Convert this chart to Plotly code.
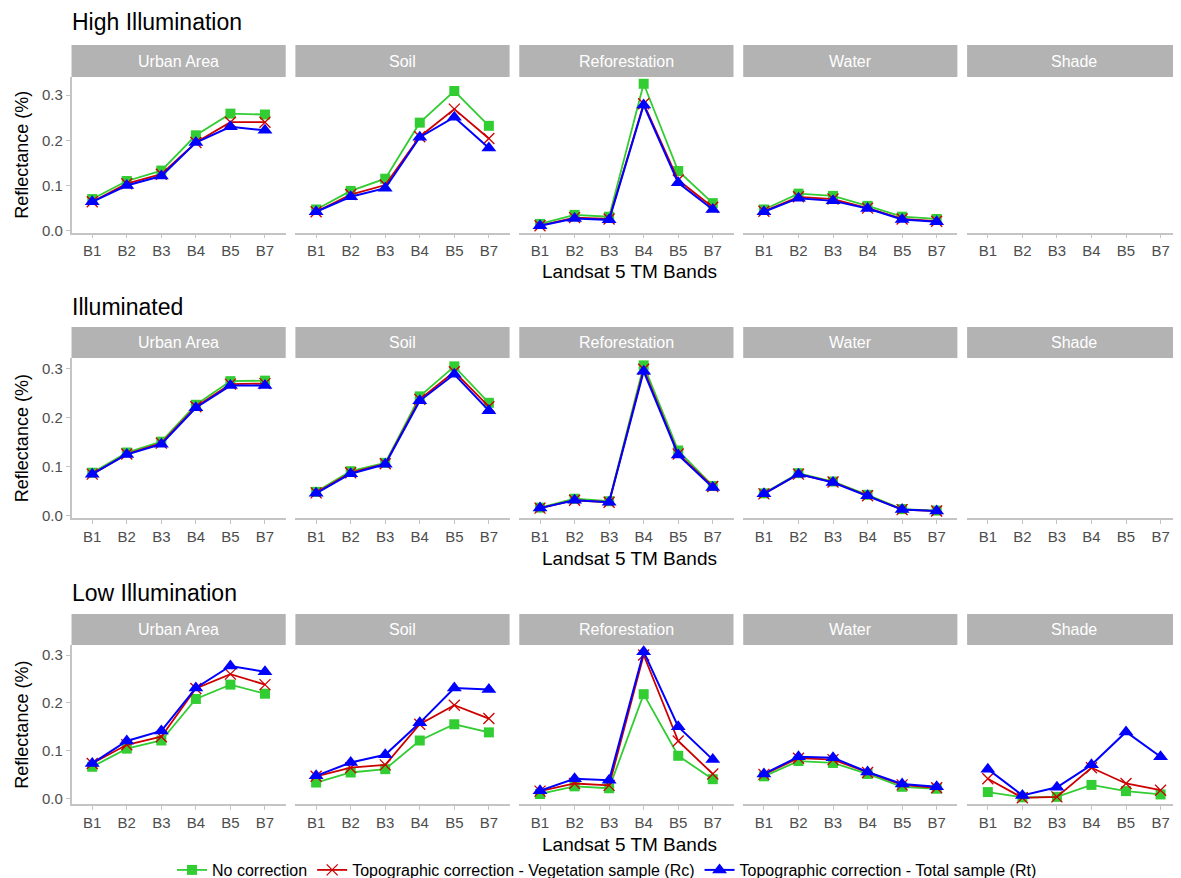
import plotly.graph_objects as go

# ---------------- data ----------------
bands = ["B1", "B2", "B3", "B4", "B5", "B7"]
classes = ["Urban Area", "Soil", "Reforestation", "Water", "Shade"]
conditions = ["High Illumination", "Illuminated", "Low Illumination"]
series_names = ["No correction",
                "Topographic correction - Vegetation sample (Rc)",
                "Topographic correction - Total sample (Rt)"]

# High Illumination (nc = no correction, rc = vegetation sample, rt = total sample)
hi_urban_nc = [0.070, 0.110, 0.133, 0.211, 0.259, 0.257]
hi_urban_rc = [0.064, 0.104, 0.125, 0.195, 0.240, 0.240]
hi_urban_rt = [0.064, 0.100, 0.121, 0.195, 0.230, 0.222]
hi_soil_nc = [0.047, 0.088, 0.115, 0.239, 0.309, 0.232]
hi_soil_rc = [0.042, 0.080, 0.101, 0.208, 0.269, 0.204]
hi_soil_rt = [0.042, 0.075, 0.094, 0.207, 0.251, 0.183]
hi_refor_nc = [0.015, 0.035, 0.031, 0.325, 0.132, 0.061]
hi_refor_rc = [0.011, 0.029, 0.026, 0.281, 0.112, 0.052]
hi_refor_rt = [0.011, 0.027, 0.024, 0.278, 0.106, 0.047]
hi_water_nc = [0.047, 0.082, 0.077, 0.055, 0.031, 0.026]
hi_water_rc = [0.043, 0.075, 0.070, 0.050, 0.026, 0.021]
hi_water_rt = [0.042, 0.072, 0.066, 0.049, 0.025, 0.020]
hi_shade_nc = []
hi_shade_rc = []
hi_shade_rt = []

# Illuminated
il_urban_nc = [0.088, 0.129, 0.151, 0.226, 0.274, 0.275]
il_urban_rc = [0.085, 0.126, 0.148, 0.222, 0.268, 0.269]
il_urban_rt = [0.085, 0.125, 0.146, 0.220, 0.265, 0.265]
il_soil_nc = [0.049, 0.091, 0.108, 0.243, 0.304, 0.230]
il_soil_rc = [0.047, 0.088, 0.106, 0.237, 0.293, 0.222]
il_soil_rt = [0.046, 0.086, 0.105, 0.234, 0.288, 0.214]
il_refor_nc = [0.017, 0.035, 0.030, 0.306, 0.133, 0.061]
il_refor_rc = [0.016, 0.032, 0.028, 0.298, 0.126, 0.060]
il_refor_rt = [0.016, 0.032, 0.028, 0.294, 0.124, 0.058]
il_water_nc = [0.046, 0.087, 0.070, 0.043, 0.014, 0.011]
il_water_rc = [0.045, 0.085, 0.069, 0.041, 0.013, 0.010]
il_water_rt = [0.045, 0.085, 0.068, 0.041, 0.013, 0.010]
il_shade_nc = []
il_shade_rc = []
il_shade_rt = []

# Low Illumination
lo_urban_nc = [0.066, 0.104, 0.121, 0.208, 0.238, 0.219]
lo_urban_rc = [0.073, 0.112, 0.129, 0.230, 0.260, 0.238]
lo_urban_rt = [0.073, 0.120, 0.141, 0.231, 0.277, 0.265]
lo_soil_nc = [0.033, 0.054, 0.061, 0.121, 0.155, 0.138]
lo_soil_rc = [0.046, 0.064, 0.070, 0.155, 0.195, 0.167]
lo_soil_rt = [0.047, 0.075, 0.091, 0.158, 0.231, 0.228]
lo_refor_nc = [0.009, 0.025, 0.021, 0.218, 0.089, 0.040]
lo_refor_rc = [0.015, 0.031, 0.027, 0.300, 0.120, 0.051]
lo_refor_rt = [0.016, 0.041, 0.038, 0.307, 0.150, 0.081]
lo_water_nc = [0.046, 0.078, 0.074, 0.051, 0.024, 0.020]
lo_water_rc = [0.050, 0.084, 0.081, 0.054, 0.028, 0.022]
lo_water_rt = [0.051, 0.087, 0.085, 0.055, 0.030, 0.024]
lo_shade_nc = [0.013, 0.002, 0.003, 0.028, 0.015, 0.008]
lo_shade_rc = [0.041, 0.001, 0.003, 0.064, 0.031, 0.017]
lo_shade_rt = [0.061, 0.006, 0.023, 0.070, 0.139, 0.087]

y_ticks = [0.0, 0.1, 0.2, 0.3]
y_tick_labels = ["0.0", "0.1", "0.2", "0.3"]

rows_data = [
    [(hi_urban_nc, hi_urban_rc, hi_urban_rt), (hi_soil_nc, hi_soil_rc, hi_soil_rt),
     (hi_refor_nc, hi_refor_rc, hi_refor_rt), (hi_water_nc, hi_water_rc, hi_water_rt),
     (hi_shade_nc, hi_shade_rc, hi_shade_rt)],
    [(il_urban_nc, il_urban_rc, il_urban_rt), (il_soil_nc, il_soil_rc, il_soil_rt),
     (il_refor_nc, il_refor_rc, il_refor_rt), (il_water_nc, il_water_rc, il_water_rt),
     (il_shade_nc, il_shade_rc, il_shade_rt)],
    [(lo_urban_nc, lo_urban_rc, lo_urban_rt), (lo_soil_nc, lo_soil_rc, lo_soil_rt),
     (lo_refor_nc, lo_refor_rc, lo_refor_rt), (lo_water_nc, lo_water_rc, lo_water_rt),
     (lo_shade_nc, lo_shade_rc, lo_shade_rt)],
]

# ---------------- layout geometry (page pixels) ----------------
OFF = 8                      # page body margin
W, H = 1181 - OFF, 878 - OFF  # figure size so it ends at the window edge
VISIBLE_RIGHT = 1173         # right-most visible page pixel
FONT = "Liberation Sans, Arial, sans-serif"
panel_w = 214.2
panel_gap = 9.7
panel_x0 = [71.5 + (panel_w + panel_gap) * i for i in range(5)]
row_geom = [  # strip top, plot top, plot bottom, y range
    (45, 77, 232.7, [-0.0044, 0.340]),
    (327, 358, 518.3, [-0.0047, 0.321]),
    (614, 645, 804.3, [-0.0126, 0.321]),
]
title_y = [22, 307, 593]
xtitle_y = [272, 558, 844]

styles = [
    dict(color="#32cd32", symbol="square", size=10, lw=1.8),
    dict(color="#cd0000", symbol="x-thin", size=11, lw=1.8),
    dict(color="#0000ff", symbol="triangle-up", size=13, lw=2.0),
]


def fx(px):
    return (px - OFF) / W


def fy(py):
    return 1 - (py - OFF) / H


fig = go.Figure()
shapes = []
annotations = []
axis_grey = "#c4c4c4"
tick_grey = "#4d4d4d"

k = 0
for r, (strip_top, ptop, pbot, yr) in enumerate(row_geom):
    for c, cls in enumerate(classes):
        k += 1
        xa = "x" if k == 1 else f"x{k}"
        ya = "y" if k == 1 else f"y{k}"
        x0 = panel_x0[c]
        x1 = min(x0 + panel_w, VISIBLE_RIGHT)
        unit = panel_w / 6.2
        xr = [-0.6, -0.6 + (x1 - x0) / unit]
        trio = rows_data[r][c]
        # placeholder trace to register categories on every panel
        fig.add_trace(go.Scatter(x=bands, y=[None] * 6, xaxis=xa, yaxis=ya,
                                 showlegend=False, hoverinfo="skip", mode="lines"))
        for s, vals in enumerate(trio):
            if not vals:
                continue
            st = styles[s]
            fig.add_trace(go.Scatter(
                x=bands, y=vals, xaxis=xa, yaxis=ya, mode="lines+markers",
                name=series_names[s], legendgroup=series_names[s],
                showlegend=(r == 2 and c == 0),
                line=dict(color=st["color"], width=st["lw"]),
                marker=dict(symbol=st["symbol"], size=st["size"], color=st["color"],
                            line=dict(color=st["color"], width=1.3 if s == 1 else 0)),
                cliponaxis=False,
            ))
        xkey = "xaxis" if k == 1 else f"xaxis{k}"
        ykey = "yaxis" if k == 1 else f"yaxis{k}"
        fig.layout[xkey] = dict(
            domain=[fx(x0), fx(x1)], anchor=ya, type="category",
            categoryorder="array", categoryarray=bands, range=xr,
            showline=True, linecolor=axis_grey, linewidth=1.5,
            ticks="outside", ticklen=4, tickcolor=axis_grey, tickwidth=1,
            tickfont=dict(family=FONT, size=15, color=tick_grey),
            showgrid=False, zeroline=False, fixedrange=True,
        )
        fig.layout[ykey] = dict(
            domain=[fy(pbot), fy(ptop)], anchor=xa, range=yr,
            tickvals=y_ticks, ticktext=y_tick_labels,
            showticklabels=(c == 0), showline=(c == 0),
            linecolor=axis_grey, linewidth=1.5,
            ticks="outside" if c == 0 else "", ticklen=4, tickcolor=axis_grey,
            tickfont=dict(family=FONT, size=15, color=tick_grey),
            showgrid=False, zeroline=False, fixedrange=True,
        )
        # strip
        shapes.append(dict(type="rect", xref="paper", yref="paper",
                           x0=fx(x0), x1=fx(x0 + panel_w), y0=fy(ptop), y1=fy(strip_top),
                           fillcolor="#b3b3b3", line=dict(width=0), layer="below"))
        annotations.append(dict(text=cls, xref="paper", yref="paper",
                                x=fx(x0 + panel_w / 2), y=fy((strip_top + ptop) / 2),
                                xanchor="center", yanchor="middle", showarrow=False,
                                font=dict(family=FONT, size=16, color="white")))
    # row title
    annotations.append(dict(text=conditions[r], xref="paper", yref="paper",
                            x=fx(70), y=fy(title_y[r]), xanchor="left", yanchor="middle",
                            showarrow=False, font=dict(family=FONT, size=23, color="black")))
    # x title
    annotations.append(dict(text="Landsat 5 TM Bands", xref="paper", yref="paper",
                            x=fx(629.7), y=fy(xtitle_y[r]), xanchor="center", yanchor="middle",
                            showarrow=False, font=dict(family=FONT, size=19, color="black")))
    # y title
    annotations.append(dict(text="Reflectance (%)", xref="paper", yref="paper",
                            x=fx(22), y=fy((ptop + pbot) / 2), xanchor="center", yanchor="middle",
                            textangle=-90, showarrow=False,
                            font=dict(family=FONT, size=18, color="black")))

fig.update_layout(
    width=W, height=H,
    margin=dict(l=0, r=0, t=0, b=0, autoexpand=False),
    paper_bgcolor="white", plot_bgcolor="white",
    shapes=shapes, annotations=annotations,
    showlegend=True,
    legend=dict(orientation="h", x=fx(607), y=fy(870), xanchor="center", yanchor="middle",
                font=dict(family=FONT, size=16, color="black"),
                itemwidth=30, tracegroupgap=0, bgcolor="rgba(0,0,0,0)"),
)

fig.write_html("out.html")
